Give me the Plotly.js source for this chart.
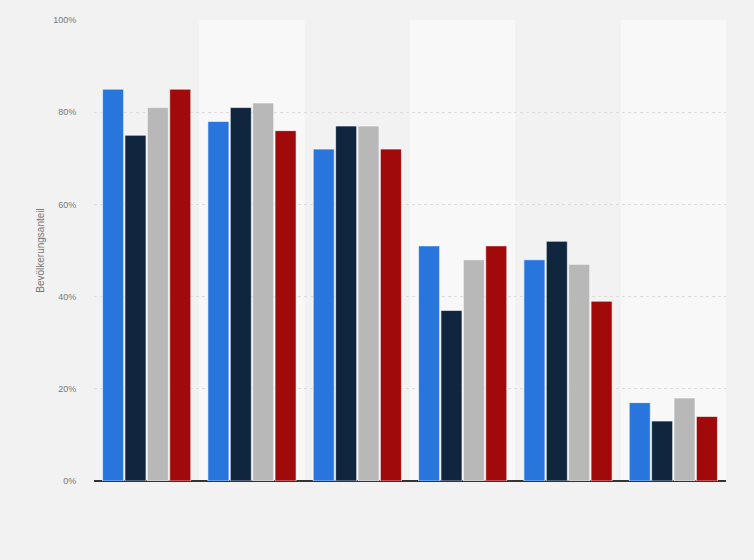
<!DOCTYPE html>
<html>
<head>
<meta charset="utf-8">
<script src="https://cdn.plot.ly/plotly-3.0.1.min.js"></script>
<style>
  html, body { margin: 0; padding: 0; background: #f2f2f2; }
  #chart { width: 754px; height: 560px; }
</style>
</head>
<body>
<div id="chart"></div>
<script>
// Kategorien (Achsenbeschriftung im Original ausgeblendet)
const categories = ['Gruppe 1', 'Gruppe 2', 'Gruppe 3', 'Gruppe 4', 'Gruppe 5', 'Gruppe 6'];

// Werte in Prozent, je Reihe
const seriesBlue = [85, 78, 72, 51, 48, 17];
const seriesNavy = [75, 81, 77, 37, 52, 13];
const seriesGray = [81, 82, 77, 48, 47, 18];
const seriesRed  = [85, 76, 72, 51, 39, 14];

const seriesNames = ['Reihe 1', 'Reihe 2', 'Reihe 3', 'Reihe 4'];
const seriesColors = ['#2876dd', '#0f263e', '#b8b8b8', '#a10a0a'];
const yTicks = [0, 20, 40, 60, 80, 100];

const allSeries = [seriesBlue, seriesNavy, seriesGray, seriesRed];

const data = allSeries.map((vals, i) => ({
    type: 'bar',
    x: categories,
    y: vals,
    name: seriesNames[i],
    marker: {
        color: seriesColors[i],
        line: { color: 'rgba(255,255,255,0.6)', width: 1 },
    },
    hovertemplate: '%{y}%<extra>' + seriesNames[i] + '</extra>',
}));

// hellere Hintergrundstreifen hinter jeder zweiten Kategorie
const bands = [];
categories.forEach((c, i) => {
    if (i % 2 === 1) {
        bands.push({
            type: 'rect', layer: 'below',
            xref: 'x', yref: 'y',
            x0: i - 0.5, x1: i + 0.5, y0: 0, y1: 100,
            fillcolor: '#f8f8f8', line: { width: 0 },
        });
    }
});

const layout = {
    width: 754,
    height: 560,
    margin: { l: 94, r: 28, t: 20, b: 79 },
    paper_bgcolor: '#f2f2f2',
    plot_bgcolor: '#f2f2f2',
    showlegend: false,
    barmode: 'group',
    bargap: 0.15,
    bargroupgap: 0.06,
    font: { family: 'Liberation Sans, Arial, sans-serif', color: '#666', size: 10 },
    xaxis: {
        showticklabels: false,
        showgrid: false,
        zeroline: false,
        showline: false,
        range: [-0.5, categories.length - 0.5],
    },
    yaxis: {
        range: [0, 100],
        tickvals: yTicks,
        ticktext: yTicks.map(v => v + '%'),
        tickfont: { size: 9, color: '#777' },
        ticks: 'outside',
        ticklen: 15,
        tickcolor: 'rgba(0,0,0,0)',
        showgrid: true,
        gridcolor: '#dcdcdc',
        griddash: 'dot',
        gridwidth: 1,
        zeroline: true,
        zerolinecolor: '#333',
        zerolinewidth: 1.5,
        showline: false,
        automargin: false,
        title: { text: 'Bevölkerungsanteil', font: { size: 10, color: '#777' }, standoff: 6 },
    },
    shapes: bands,
};

Plotly.newPlot('chart', data, layout, { displayModeBar: false, staticPlot: true });
</script>
</body>
</html>
